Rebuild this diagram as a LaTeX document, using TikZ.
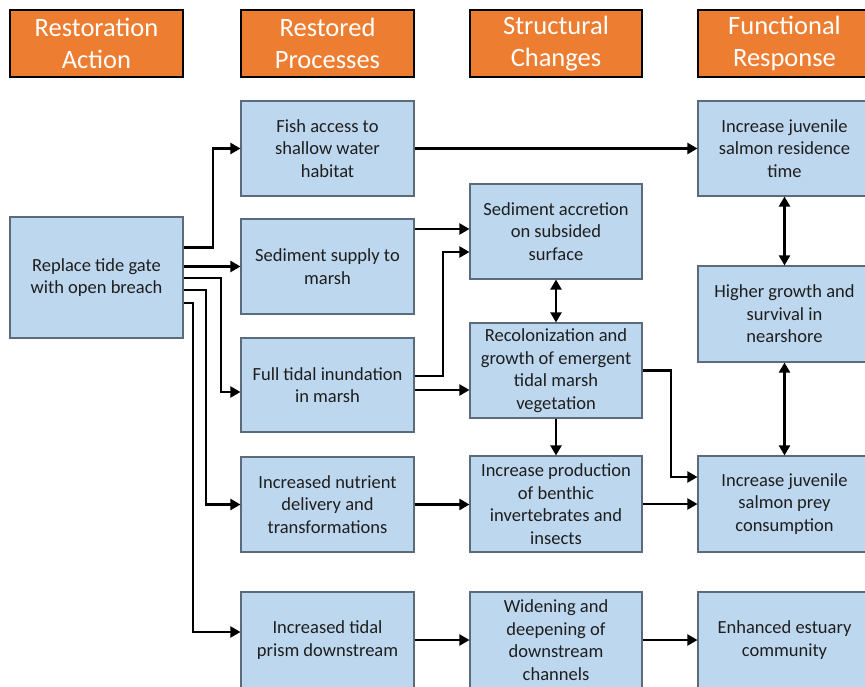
\documentclass[tikz,border=0pt]{standalone}
\usepackage{fontspec}
\setmainfont{Carlito}
\usetikzlibrary{arrows.meta,calc}
\definecolor{hdr}{HTML}{ED7D31}
\definecolor{boxfill}{HTML}{BDD7EE}
\definecolor{boxline}{HTML}{5B6B7B}
\definecolor{txt}{HTML}{1E1E1E}

\begin{document}
\begin{tikzpicture}[x=1pt,y=-1pt,
  header/.style={draw=black, line width=2.5pt, fill=hdr, text=white, align=center,
    inner sep=0pt, minimum width=173pt, minimum height=67pt,
    font=\fontsize{26.5}{32}\selectfont},
  stage/.style={draw=boxline, line width=1.1pt, fill=boxfill, text=txt, align=center,
    inner sep=0pt, minimum width=173pt, font=\fontsize{18.5}{22.5}\selectfont},
  arr/.style={line width=2.1pt, -{Triangle[length=10pt,width=11pt]}},
  darr/.style={line width=2.1pt, {Triangle[length=10pt,width=11pt]}-{Triangle[length=10pt,width=11pt]}}]

\useasboundingbox (0,0) rectangle (865,687);
\clip (0,0) rectangle (865,687);
\fill[white] (0,0) rectangle (865,687);

% column headers
\node[header] (hA) at (96.5,43.5) {Restoration\\Action};
\node[header] (hB) at (327.5,43.5) {Restored\\Processes};
\node[header, minimum width=172pt] (hC) at (556,43.5) {Structural\\Changes};
\node[header] (hD) at (784.5,43.5) {Functional\\Response};

% restoration action
\node[stage, minimum height=121pt] (act) at (96.5,277.5) {Replace tide gate\\with open breach};

% restored processes
\node[stage, minimum height=95pt] (fish)  at (327.5,148.5) {Fish access to\\shallow water\\habitat};
\node[stage, minimum height=95pt] (sed)   at (327.5,266.5) {Sediment supply to\\marsh};
\node[stage, minimum height=94pt] (full)  at (327.5,385)   {Full tidal inundation\\in marsh};
\node[stage, minimum height=95pt] (nut)   at (327.5,504.5) {Increased nutrient\\delivery and\\transformations};
\node[stage, minimum height=96pt] (prism) at (327.5,640)   {Increased tidal\\prism downstream};

% structural changes
\node[stage, minimum width=172pt, minimum height=95pt] (acc)  at (556,231.5) {Sediment accretion\\on subsided\\surface};
\node[stage, minimum width=172pt, minimum height=95pt] (rec)  at (556,370.5) {Recolonization and\\growth of emergent\\tidal marsh\\vegetation};
\node[stage, minimum width=172pt, minimum height=96pt] (prod) at (556,504)   {Increase production\\of benthic\\invertebrates and\\insects};
\node[stage, minimum width=172pt, minimum height=96pt] (wid)  at (556,640)   {Widening and\\deepening of\\downstream\\channels};

% functional response
\node[stage, minimum height=95pt] (res)  at (784.5,148.5) {Increase juvenile\\salmon residence\\time};
\node[stage, minimum height=96pt] (grow) at (784.5,314)   {Higher growth and\\survival in\\nearshore};
\node[stage, minimum height=96pt] (prey) at (784.5,504)   {Increase juvenile\\salmon prey\\consumption};
\node[stage, minimum height=96pt] (enh)  at (784.5,640)   {Enhanced estuary\\community};

% action to processes
\draw[arr] ([yshift=30pt]act.east) -- ++(29,0) |- (fish.west);
\draw[arr] (act.east |- sed.west) -- (sed.west);
\draw[arr] ([yshift=-0.5pt]act.east) -- ++(37,0) |- ([yshift=-7pt]full.west);
\draw[arr] ([yshift=-12.5pt]act.east) -- ++(22,0) |- (nut.west);
\draw[arr] ([yshift=-25.5pt]act.east) -- ++(9,0) |- ([yshift=8pt]prism.west);

% processes to structure and response
\draw[arr] (fish.east) -- (res.west);
\draw[arr] ([yshift=37.5pt]sed.east) -- ([yshift=2.5pt]acc.west);
\draw[arr] ([yshift=9pt]full.east) -- ++(28,0) |- ([yshift=-20.5pt]acc.west);
\draw[arr] ([yshift=-5pt]full.east) -- ([yshift=-19.5pt]rec.west);
\draw[arr] (nut.east) -- (nut.east -| prod.west);
\draw[arr] (prism.east) -- (wid.west);

% structure links
\draw[darr] (acc.south) -- (rec.north);
\draw[arr] (rec.south) -- (prod.north);
\draw[arr] (rec.east) -- ++(28,0) |- ([yshift=27pt]prey.west);
\draw[arr] (prod.east) -- (prey.west);
\draw[arr] (wid.east) -- (enh.west);

% response links
\draw[darr] (res.south) -- (grow.north);
\draw[darr] (grow.south) -- (prey.north);
\end{tikzpicture}
\end{document}
